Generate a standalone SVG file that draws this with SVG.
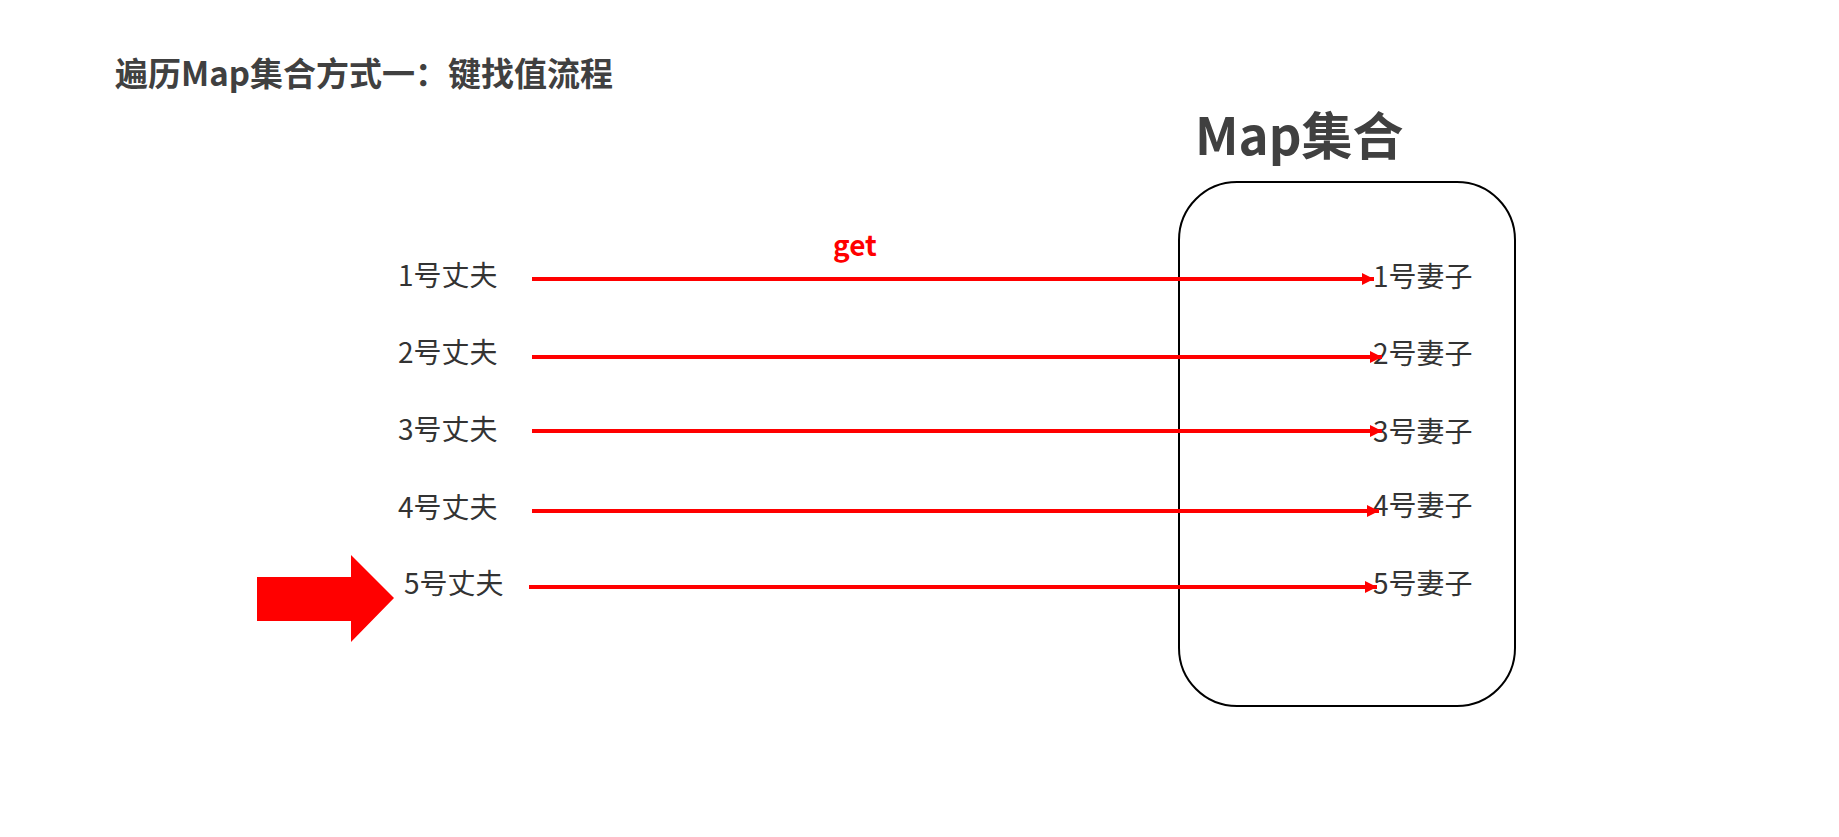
<svg xmlns="http://www.w3.org/2000/svg" width="1839" height="837" viewBox="0 0 1839 837">
<defs>
<style>
.t{font-family:"Noto Sans CJK SC","Liberation Sans",sans-serif;}
.title{font-size:33px;font-weight:bold;fill:#404040;}
.big{font-size:51px;font-weight:bold;fill:#404040;}
.lbl{font-size:28px;fill:#333;}
.get{font-size:28px;font-weight:bold;fill:#f00;}
.ln{stroke:#f00;stroke-width:4;fill:none;}
</style>
<marker id="ah" markerWidth="12" markerHeight="12" refX="12" refY="6" orient="auto" markerUnits="userSpaceOnUse">
<path d="M0,0 L12,6 L0,12 Z" fill="#f00"/>
</marker>
</defs>
<rect width="1839" height="837" fill="#fff"/>
<text class="t title" x="115" y="86">遍历Map集合方式一：键找值流程</text>
<g id="map">
<rect x="1179" y="182" width="336" height="524" rx="58" ry="58" fill="none" stroke="#000" stroke-width="2"/>
<text class="t big" x="1195" y="155">Map集合</text>
</g>
<g id="husbands">
<text class="t lbl" x="398" y="286">1号丈夫</text>
<text class="t lbl" x="398" y="363">2号丈夫</text>
<text class="t lbl" x="398" y="440">3号丈夫</text>
<text class="t lbl" x="398" y="518">4号丈夫</text>
<text class="t lbl" x="404" y="594">5号丈夫</text>
</g>
<g id="wives">
<text class="t lbl" x="1373" y="287">1号妻子</text>
<text class="t lbl" x="1373" y="364">2号妻子</text>
<text class="t lbl" x="1373" y="442">3号妻子</text>
<text class="t lbl" x="1373" y="516">4号妻子</text>
<text class="t lbl" x="1373" y="594">5号妻子</text>
</g>
<g id="connectors">
<line class="ln" x1="532" y1="279" x2="1374" y2="279" marker-end="url(#ah)"/>
<line class="ln" x1="532" y1="357" x2="1382" y2="357" marker-end="url(#ah)"/>
<line class="ln" x1="532" y1="431" x2="1382" y2="431" marker-end="url(#ah)"/>
<line class="ln" x1="532" y1="511" x2="1379" y2="511" marker-end="url(#ah)"/>
<line class="ln" x1="529" y1="587" x2="1377" y2="587" marker-end="url(#ah)"/>
<text class="t get" x="833" y="256">get</text>
</g>
<g id="pointer">
<polygon points="257,577 351,577 351,555 394,598 351,642 351,621 257,621" fill="#f00"/>
</g>
</svg>
